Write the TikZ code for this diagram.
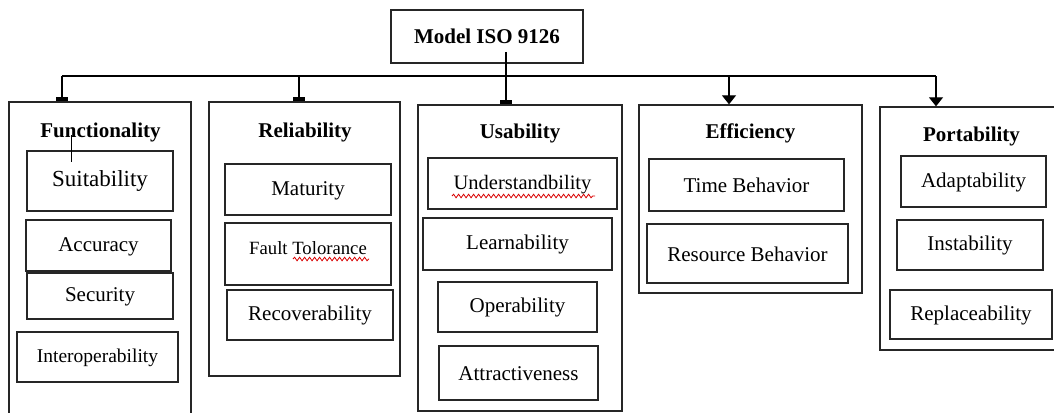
\documentclass[tikz,border=0pt]{standalone}
\usepackage{fontspec}
\setmainfont{Liberation Serif}
\usetikzlibrary{arrows.meta,decorations.pathmorphing}
\begin{document}
\begin{tikzpicture}[x=1pt,y=-1pt,line width=1.1pt,
    box/.style={draw=black!85,inner sep=0pt},
    grp/.style={box,line width=1.3pt},
    ttl/.style={anchor=base,font=\fontsize{21}{21}\selectfont\bfseries},
    arrowdown/.style={-{Triangle[length=9pt,width=14pt]}},
    arrowbar/.style={-{Rectangle[length=4pt,width=12pt]}},
    squiggle/.style={red!85!black,line width=0.8pt,decorate,
      decoration={snake,amplitude=1.8pt,segment length=5pt}}]
\useasboundingbox (0,0) rectangle (1054,412);
\clip (0,0) rectangle (1054,412);
\node[box,minimum width=192pt,minimum height=53pt,font=\fontsize{21}{21}\selectfont\bfseries] (model) at (487,36.5) {Model ISO 9126};
\node[grp,minimum width=182pt,minimum height=328pt] (funct) at (100,266) {};
\node[grp,minimum width=191pt,minimum height=274pt] (rel) at (304.5,239) {};
\node[grp,minimum width=204pt,minimum height=306pt] (usab) at (520,258) {};
\node[grp,minimum width=223pt,minimum height=188pt] (eff) at (750.5,199) {};
\node[grp,minimum width=178pt,minimum height=243pt] (port) at (969,228.5) {};
\node[ttl] (funct-t) at (100.5,137) {Functionality};
\node[ttl] (rel-t) at (305,137) {Reliability};
\node[ttl] (usab-t) at (520,138) {Usability};
\node[ttl] (eff-t) at (750.5,138) {Efficiency};
\node[ttl] (port-t) at (971.5,141) {Portability};
\foreach \id/\cx/\cy/\w/\h/\fs/\t in {
    suit/100/181/146/60/23/Suitability,
    acc/98.5/245.5/145/51/21/Accuracy,
    sec/100/296/146/46/21/Security,
    inter/97.5/357/161/50/19.5/Interoperability,
    mat/308/189.5/166/51/21/Maturity,
    recov/310/315/166/50/21/Recoverability,
    und/522.5/183.5/189/51/20.5/Understandbility,
    learn/517.5/244/189/52/21/Learnability,
    oper/517.5/307/159/50/21/Operability,
    attr/518.5/373/159/54/21/Attractiveness,
    time/746.5/185/195/52/21/Time Behavior,
    res/747.5/253.5/201/59/21/Resource Behavior,
    adapt/973.5/181.5/145/51/21/Adaptability,
    inst/970/245/146/50/21/Instability,
    repl/971/314.5/162/49/21/Replaceability}
  \node[box,minimum width=\w pt,minimum height=\h pt,text height=16pt,font=\fontsize{\fs}{\fs}\selectfont] (\id) at (\cx,\cy) {\t};
\node[box,minimum width=166pt,minimum height=62pt,text depth=12pt,font=\fontsize{18.7}{18.7}\selectfont] (fault) at (308,254) {Fault Tolorance};
\draw[squiggle] (293,259) -- (369,259);
\draw[squiggle] (452,196) -- (595,196);
\draw[line width=0.8pt] (71,135) -- (71,162);
\coordinate (stem) at (506,52);
\coordinate (bus-funct) at (62,76);
\coordinate (bus-rel) at (299,76);
\coordinate (bus-eff) at (729,76);
\coordinate (bus-port) at (936,76);
\draw (bus-funct) -- (bus-port);
\draw[arrowbar] (stem) -- (usab.north -| stem);
\foreach \g/\s in {funct/arrowbar,rel/arrowbar,eff/arrowdown,port/arrowdown}
  \draw[\s] (bus-\g) -- (\g.north -| bus-\g);
\end{tikzpicture}
\end{document}
